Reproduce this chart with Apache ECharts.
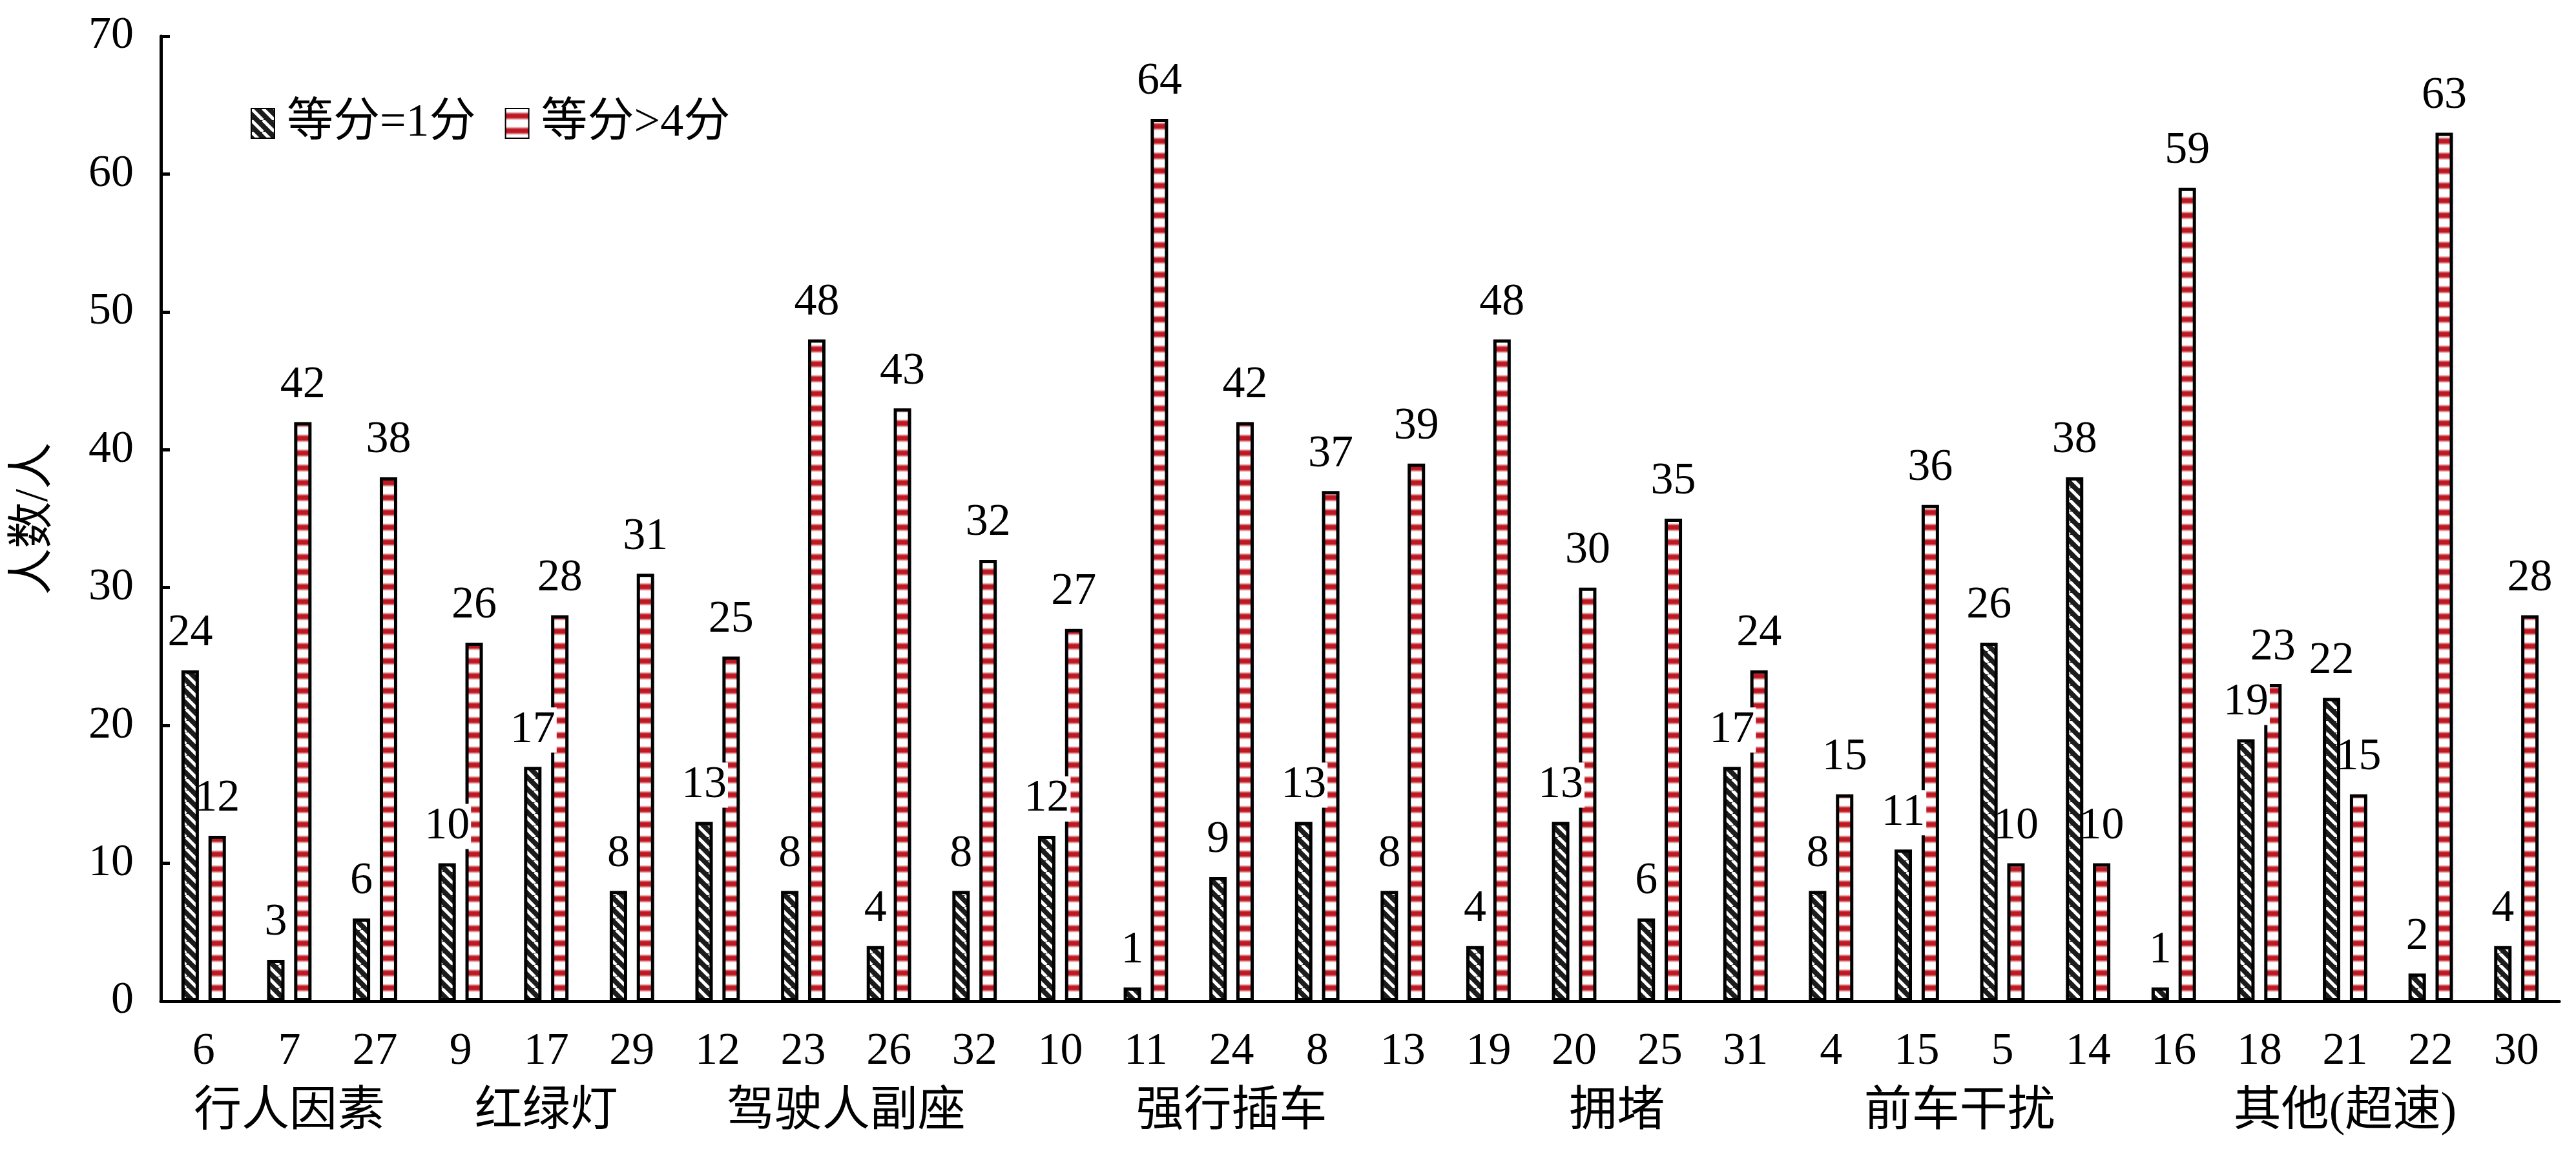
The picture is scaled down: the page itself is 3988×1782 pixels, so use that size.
<!DOCTYPE html>
<html><head><meta charset="utf-8">
<script src="https://cdn.jsdelivr.net/npm/echarts@6/dist/echarts.min.js"></script>
<style>html,body{margin:0;padding:0;background:#fff}#c{width:3988px;height:1782px}</style>
</head><body><div id="c"></div>
<script>
const categories = ['6','7','27','9','17','29','12','23','26','32','10','11','24','8','13','19','20','25','31','4','15','5','14','16','18','21','22','30'];
const score1 = [24,3,6,10,17,8,13,8,4,8,12,1,9,13,8,4,13,6,17,8,11,26,38,1,19,22,2,4];
const score4 = [12,42,38,26,28,31,25,48,43,32,27,64,42,37,39,48,30,35,24,15,36,10,10,59,23,15,63,28];
const groupNames = ['行人因素','红绿灯','驾驶人副座','强行插车','拥堵','前车干扰','其他(超速)'];
const groupSizes = [3,3,4,5,4,4,5];
const seriesNames = ['等分=1分','等分>4分'];
const yMin = 0, yMax = 70, yInterval = 10;

const FONT = 'Liberation Serif, Noto Sans CJK SC, serif';

function hatchPattern(){
  const s = 18;
  const c = document.createElement('canvas'); c.width = s; c.height = s;
  const g = c.getContext('2d');
  g.fillStyle = '#1c1c1c'; g.fillRect(0,0,s,s);
  g.strokeStyle = '#ffffff'; g.lineWidth = 5;
  for (let k=-1;k<=1;k++){ g.beginPath(); g.moveTo(k*s,0); g.lineTo(k*s+s,s); g.stroke(); }
  return c;
}
function stripePattern(){
  const w = 8, h = 23;
  const c = document.createElement('canvas'); c.width = w; c.height = h;
  const g = c.getContext('2d');
  g.fillStyle = '#ffffff'; g.fillRect(0,0,w,h);
  const grd = g.createLinearGradient(0,5,0,18);
  grd.addColorStop(0,'rgba(190,25,35,0)');
  grd.addColorStop(0.3,'rgba(190,25,35,1)');
  grd.addColorStop(0.7,'rgba(190,25,35,1)');
  grd.addColorStop(1,'rgba(190,25,35,0)');
  g.fillStyle = grd; g.fillRect(0,5,w,13);
  return c;
}

const groupCenters = [];
{ let acc = 0; groupSizes.forEach(n => { groupCenters.push(acc + n/2); acc += n; }); }

const chart = echarts.init(document.getElementById('c'), null, {renderer:'canvas'});
const labelBase = { show:true, position:'top', distance:22, color:'#000', fontFamily:FONT, fontSize:70 };
chart.setOption({
  animation:false,
  backgroundColor:'#fff',
  grid:{ left:249, right:26, top:56, bottom:232, containLabel:false },
  legend:{
    left:383, top:150, itemWidth:36, itemHeight:46, itemGap:45, icon:'rect',
    textStyle:{ fontFamily:FONT, fontSize:72, color:'#000', padding:[0,0,0,14] },
    data: seriesNames
  },
  xAxis:[{
    type:'category', data:categories,
    axisLine:{ lineStyle:{ color:'#000', width:5 } },
    axisTick:{ show:false },
    axisLabel:{ color:'#000', fontFamily:FONT, fontSize:70, margin:44, interval:0 },
    splitLine:{ show:false }
  },{
    type:'value', position:'bottom', min:0, max:categories.length,
    axisLine:{ show:false }, axisTick:{ show:false }, splitLine:{ show:false },
    axisLabel:{ customValues:groupCenters, color:'#000', fontFamily:FONT, fontSize:74, margin:136,
      formatter:v => { const i = groupCenters.indexOf(v); return i>=0 ? groupNames[i] : ''; } }
  }],
  yAxis:{
    type:'value', min:yMin, max:yMax, interval:yInterval,
    name:'人数/人', nameLocation:'middle', nameGap:160, nameRotate:90,
    nameTextStyle:{ fontFamily:FONT, fontSize:72, color:'#000' },
    axisLine:{ show:true, lineStyle:{ color:'#000', width:5 } },
    axisTick:{ show:true, inside:true, length:14, lineStyle:{ color:'#000', width:5 } },
    axisLabel:{ color:'#000', fontFamily:FONT, fontSize:70, margin:42 },
    splitLine:{ show:false }
  },
  series:[{
    name:seriesNames[0], type:'bar', data:score1, barWidth:27, barGap:'55%',
    itemStyle:{ color:{ image:hatchPattern(), repeat:'repeat' }, borderColor:'#000', borderWidth:5 },
    label:Object.assign({}, labelBase, { backgroundColor:'#fff', padding:[0,2,0,2] })
  },{
    name:seriesNames[1], type:'bar', data:score4, barWidth:27,
    itemStyle:{ color:{ image:stripePattern(), repeat:'repeat' }, borderColor:'#000', borderWidth:5 },
    label:labelBase
  }]
});
</script></body></html>
